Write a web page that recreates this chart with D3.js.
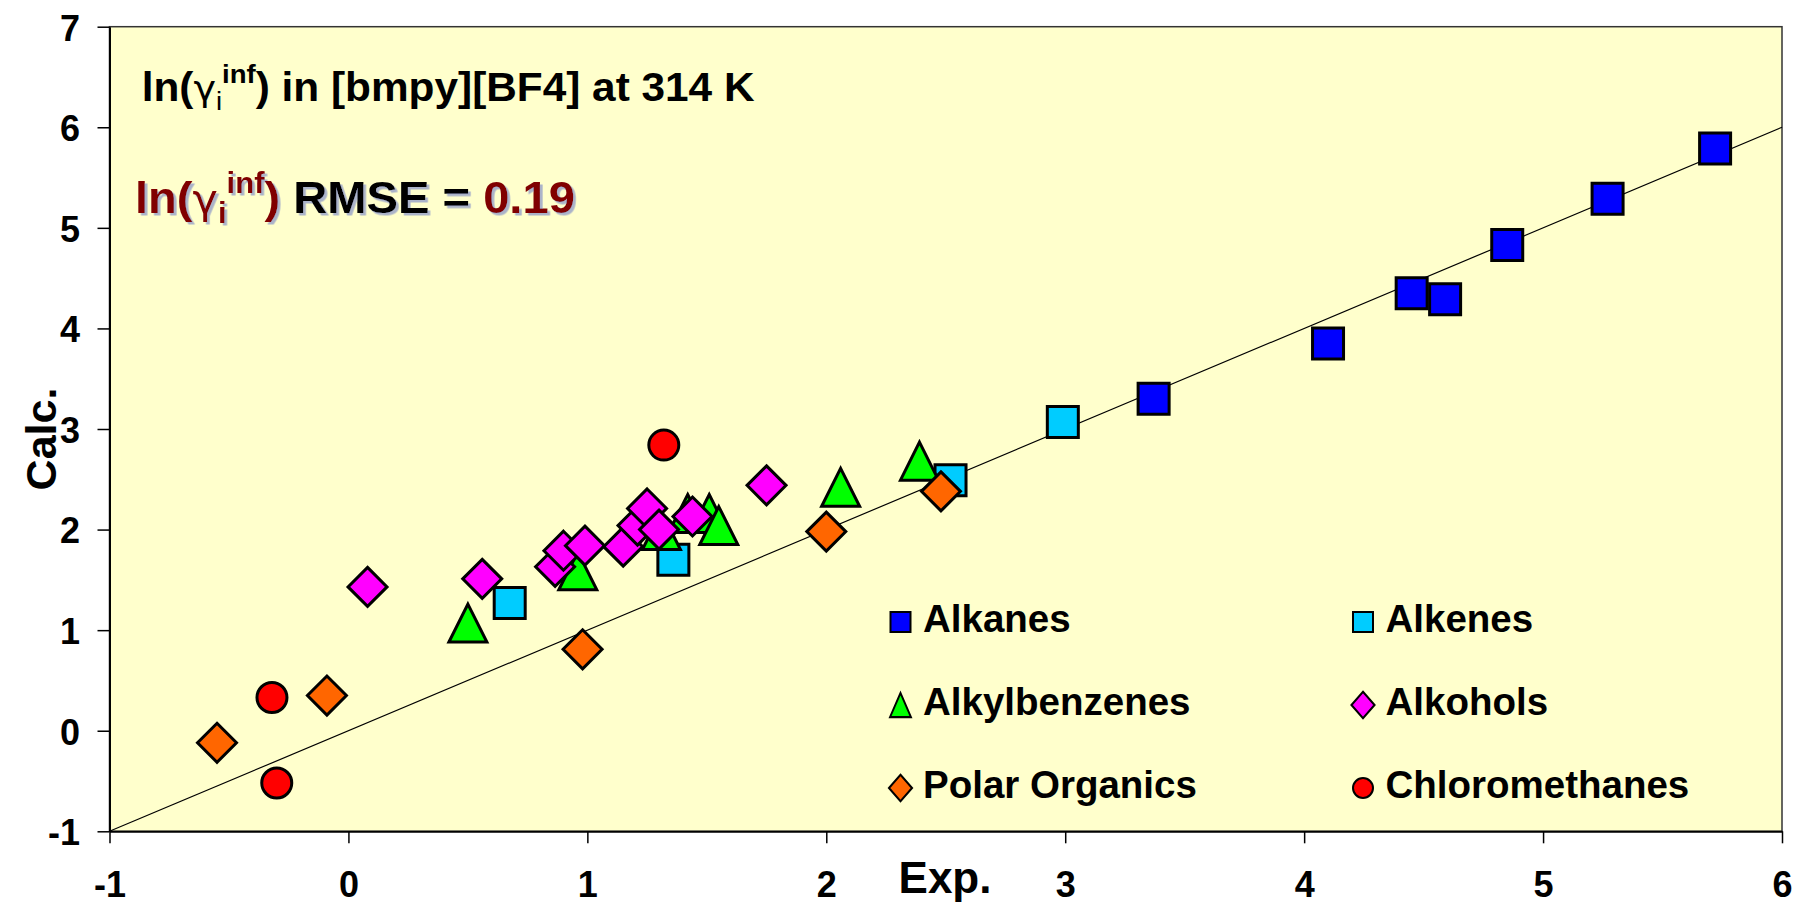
<!DOCTYPE html>
<html>
<head>
<meta charset="utf-8">
<script src="https://cdn.jsdelivr.net/npm/d3@7"></script>
<style>
  body { margin: 0; background: #fff; }
  text { font-family: Arial, "Liberation Sans", sans-serif; }
</style>
</head>
<body>
<svg id="chart"></svg>
<script>
// data (Exp. vs Calc. ln(gamma inf))
var alkanesX = [5.72, 5.27, 4.85, 4.45, 4.59, 4.10, 3.37];
var alkanesY = [5.79, 5.29, 4.83, 4.35, 4.29, 3.85, 3.30];

var alkenesX = [2.99, 2.52, 1.36, 0.675];
var alkenesY = [3.07, 2.49, 1.70, 1.27];

var alkylbenzenesX = [0.50, 0.96, 1.31, 1.42, 1.51, 1.55, 2.06, 2.39];
var alkylbenzenesY = [1.07, 1.59, 1.99, 2.16, 2.16, 2.04, 2.42, 2.68];

var alcoholsX = [0.08, 0.56, 0.865, 0.90, 0.99, 1.15, 1.21, 1.25, 1.30, 1.44, 1.75];
var alcoholsY = [1.43, 1.51, 1.63, 1.79, 1.84, 1.83, 2.04, 2.21, 2.00, 2.13, 2.44];

var polarX = [-0.55, -0.09, 0.98, 2.00, 2.48];
var polarY = [-0.12, 0.35, 0.81, 1.98, 2.38];

var chloroX = [-0.32, -0.30, 1.32];
var chloroY = [0.33, -0.52, 2.84];

var xTicks = [-1, 0, 1, 2, 3, 4, 5, 6];
var yTicks = [-1, 0, 1, 2, 3, 4, 5, 6, 7];
var parityLine = [-1, 6];

// custom marker shapes (size = half width)
var shapes = {
  square: { draw: function (c, r) { c.rect(-r, -r, 2 * r, 2 * r); } },
  diamond: { draw: function (c, r) { c.moveTo(0, -r); c.lineTo(r, 0); c.lineTo(0, r); c.lineTo(-r, 0); c.closePath(); } },
  triangle: { draw: function (c, r) { c.moveTo(0, -r); c.lineTo(r, r); c.lineTo(-r, r); c.closePath(); } },
  circle: { draw: function (c, r) { c.moveTo(r, 0); c.arc(0, 0, r, 0, 2 * Math.PI); } }
};

var series = [
  { name: "Alkanes", xs: alkanesX, ys: alkanesY, shape: "square", r: 15.5, fill: "#0000FF" },
  { name: "Alkenes", xs: alkenesX, ys: alkenesY, shape: "square", r: 15.5, fill: "#00CCFF" },
  { name: "Alkylbenzenes", xs: alkylbenzenesX, ys: alkylbenzenesY, shape: "triangle", r: 19, fill: "#00FF00" },
  { name: "Alkohols", xs: alcoholsX, ys: alcoholsY, shape: "diamond", r: 19.5, fill: "#FF00FF" },
  { name: "Polar Organics", xs: polarX, ys: polarY, shape: "diamond", r: 19.5, fill: "#FF6600" },
  { name: "Chloromethanes", xs: chloroX, ys: chloroY, shape: "circle", r: 15, fill: "#FF0000" }
];

var W = 1797, H = 904;
var margin = { top: 26.7, right: 15, bottom: 72.7, left: 109.5 };

var svg = d3.select("#chart").attr("width", W).attr("height", H);

var x = d3.scaleLinear().domain([-1, 6]).range([margin.left, W - margin.right]);
var y = d3.scaleLinear().domain([-1, 7]).range([H - margin.bottom, margin.top]);

var defs = svg.append("defs");
var f = defs.append("filter").attr("id", "shadow")
  .attr("x", "-5%").attr("y", "-20%").attr("width", "115%").attr("height", "150%");
f.append("feDropShadow").attr("dx", 2.5).attr("dy", 2.5).attr("stdDeviation", 0.6)
  .attr("flood-color", "#8e9ac8").attr("flood-opacity", 0.75);

// plot area
svg.append("rect")
  .attr("x", x(-1)).attr("y", y(7))
  .attr("width", x(6) - x(-1)).attr("height", y(-1) - y(7))
  .attr("fill", "#FFFFCC").attr("stroke", "#333").attr("stroke-width", 1.5);

// axes
var plain = function (d) { return String(d); };
var yAxis = svg.append("g")
  .attr("transform", "translate(" + x(-1) + ",0)")
  .call(d3.axisLeft(y).tickValues(yTicks).tickFormat(plain)
    .tickSize(12).tickSizeOuter(0).tickPadding(17.5));
yAxis.selectAll("text").attr("dy", "0.37em");

var xAxis = svg.append("g")
  .attr("transform", "translate(0," + y(-1) + ")")
  .call(d3.axisBottom(x).tickValues(xTicks).tickFormat(plain)
    .tickSize(12).tickSizeOuter(0).tickPadding(28));

svg.selectAll(".domain").attr("stroke", "#000").attr("stroke-width", 2);
svg.selectAll(".tick line").attr("stroke", "#000").attr("stroke-width", 1.5);
svg.selectAll(".tick text")
  .attr("fill", "#000")
  .style("font-size", "36px").style("font-weight", "bold")
  .style("font-family", "Arial, 'Liberation Sans', sans-serif");

// axis titles
svg.append("text")
  .attr("x", 945).attr("y", 893)
  .attr("text-anchor", "middle")
  .style("font-size", "44px").style("font-weight", "bold")
  .text("Exp.");

svg.append("text")
  .attr("transform", "translate(56,439) rotate(-90)")
  .attr("text-anchor", "middle")
  .style("font-size", "43px").style("font-weight", "bold")
  .text("Calc.");

// parity line y = x
svg.append("line")
  .attr("x1", x(parityLine[0])).attr("y1", y(parityLine[0]))
  .attr("x2", x(parityLine[1])).attr("y2", y(parityLine[1]))
  .attr("stroke", "#000").attr("stroke-width", 1.2);

// markers
var sym = d3.symbol();
series.forEach(function (s) {
  var pts = s.xs.map(function (v, i) { return [v, s.ys[i]]; });
  svg.append("g").selectAll("path")
    .data(pts)
    .enter().append("path")
    .attr("transform", function (d) { return "translate(" + x(d[0]) + "," + y(d[1]) + ")"; })
    .attr("d", sym.type(shapes[s.shape]).size(s.r)())
    .attr("fill", s.fill)
    .attr("stroke", "#000")
    .attr("stroke-width", 3)
    .attr("stroke-linejoin", "miter");
});

// legend
var legendCols = [900.5, 1363];
var legendRows = [622, 705, 788];
var legendR = { square: 10, diamond: 11.5, triangle: 11, circle: 10 };
series.forEach(function (s, i) {
  var lx = legendCols[i % 2], ly = legendRows[Math.floor(i / 2)];
  var g = svg.append("g").attr("transform", "translate(" + lx + "," + ly + ")");
  var r = legendR[s.shape];
  g.append("path")
    .attr("d", d3.symbol().type(shapes[s.shape]).size(r)())
    .attr("transform", s.shape === "diamond" ? "scale(1,1.15)" : (s.shape === "triangle" ? "scale(0.95,1.1)" : null))
    .attr("fill", s.fill).attr("stroke", "#000").attr("stroke-width", 2);
  g.append("text")
    .attr("x", 22.5).attr("y", 10)
    .style("font-size", "38.5px").style("font-weight", "bold")
    .text(s.name);
});

// fit a text line horizontally to a measured width
function fitText(t, x0, base, target) {
  var w = t.node().getBBox().width;
  t.attr("transform", "translate(" + x0 + "," + base + ") scale(" + (target / w) + ",1)");
}

// title
var t1 = svg.append("text").style("font-size", "40px").style("font-weight", "bold");
t1.append("tspan").text("ln(");
t1.append("tspan").style("font-weight", "normal").style("font-size", "36px")
  .style("font-family", "'DejaVu Sans', sans-serif").text("γ");
t1.append("tspan").style("font-weight", "normal").style("font-size", "26px").attr("dy", 9).text("i");
t1.append("tspan").style("font-size", "26px").attr("dy", -27).text("inf");
t1.append("tspan").attr("dy", 18).text(") in [bmpy][BF4] at 314 K");
fitText(t1, 141.7, 100.7, 613);

// RMSE line
var t2 = svg.append("text").style("font-size", "44px").style("font-weight", "bold")
  .attr("filter", "url(#shadow)");
t2.append("tspan").attr("fill", "#800000").text("ln(");
t2.append("tspan").attr("fill", "#800000").style("font-weight", "normal").style("font-size", "40px")
  .style("font-family", "'DejaVu Sans', sans-serif").text("γ");
t2.append("tspan").attr("fill", "#800000").style("font-size", "29px").attr("dy", 10).text("i");
t2.append("tspan").attr("fill", "#800000").style("font-size", "29px").attr("dy", -30).text("inf");
t2.append("tspan").attr("fill", "#800000").attr("dy", 20).text(")");
t2.append("tspan").attr("fill", "#000").text(" RMSE = ");
t2.append("tspan").attr("fill", "#800000").text("0.19");
fitText(t2, 135, 213.3, 440);
</script>
</body>
</html>
